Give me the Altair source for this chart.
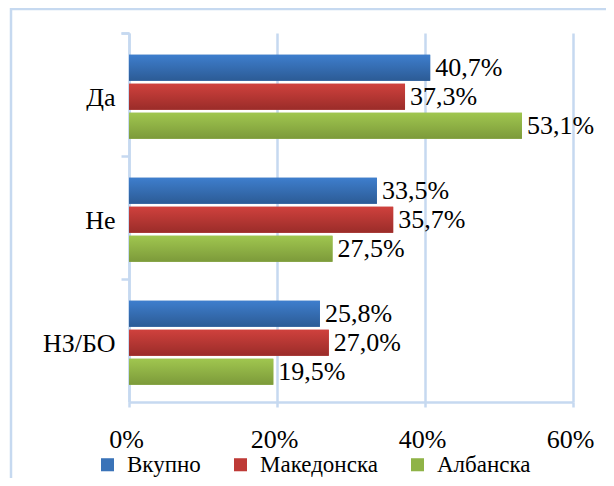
import altair as alt
import pandas as pd

categories = ["Да", "Не", "НЗ/БО"]
series = ["Вкупно", "Македонска", "Албанска"]
vkupno = [40.7, 33.5, 25.8]
makedonska = [37.3, 35.7, 27.0]
albanska = [53.1, 27.5, 19.5]
x_ticks = [0, 20, 40, 60]

solid = ["#3a73b8", "#be3a36", "#8fb347"]
grad_top = ["#3e7ecd", "#cf413d", "#a0c64f"]
grad_bot = ["#2c5b95", "#9a2c29", "#7c9a3a"]

rows = []
for s, vals in zip(series, [vkupno, makedonska, albanska]):
    for c, v in zip(categories, vals):
        rows.append({"cat": c, "series": s, "value": v,
                     "label": f"{v:.1f}".replace(".", ",") + "%"})
df = pd.DataFrame(rows)

FONT = "Liberation Serif"
GRID = "#c6d9f0"
FS = 26

y_enc = alt.Y("cat:N", sort=categories, title=None,
              scale=alt.Scale(domain=categories, paddingInner=0, paddingOuter=0),
              axis=alt.Axis(bandPosition=0, tickExtra=True, domainColor=GRID,
                            domainWidth=2.5, tickColor=GRID, tickWidth=2.5,
                            tickSize=8, labelFont=FONT, labelFontSize=FS,
                            labelColor="black", labelPadding=6, labelOffset=3,
                            grid=False))
yoff_enc = alt.YOffset("series:N", sort=series,
                       scale=alt.Scale(domain=series, paddingInner=0.103,
                                       paddingOuter=0.672, align=0.56))
x_enc = alt.X("value:Q", title=None,
              scale=alt.Scale(domain=[0, 60], nice=False),
              axis=alt.Axis(values=x_ticks, labelExpr="datum.value + '%'",
                            grid=True, gridColor=GRID, gridWidth=2.5,
                            domainColor=GRID, domainWidth=2.5,
                            tickColor=GRID, tickWidth=2.5, tickSize=5,
                            labelFlush=False, labelOffset=-3,
                            labelFont=FONT, labelFontSize=FS,
                            labelColor="black", labelPadding=19))

base = alt.Chart(df)

legend_layer = base.mark_bar().encode(
    x=x_enc, y=y_enc, yOffset=yoff_enc,
    color=alt.Color("series:N", sort=series,
                    scale=alt.Scale(domain=series, range=solid),
                    legend=alt.Legend(title=None, orient="none", direction="horizontal",
                                      legendX=-33, legendY=420,
                                      symbolType="square", symbolSize=170,
                                      symbolStrokeWidth=0,
                                      labelFont=FONT, labelFontSize=23,
                                      labelColor="black", labelOffset=8,
                                      columnPadding=28)),
)

grad_layers = []
for i, s in enumerate(series):
    grad = alt.Gradient(gradient="linear",
                        stops=[alt.GradientStop(color=grad_top[i], offset=0),
                               alt.GradientStop(color=grad_bot[i], offset=1)],
                        x1=0, x2=0, y1=0, y2=1)
    grad_layers.append(
        base.transform_filter(alt.datum.series == s)
        .mark_bar(color=grad)
        .encode(x=x_enc, y=y_enc, yOffset=yoff_enc)
    )

text_layer = base.mark_text(align="left", baseline="middle", dx=5,
                            font=FONT, fontSize=FS, color="black").encode(
    x=x_enc, y=y_enc, yOffset=yoff_enc, text="label:N")

frame = alt.Chart(pd.DataFrame({"a": [0]})).mark_rect(
    fill=None, stroke=GRID, strokeWidth=2.5).encode(
    x=alt.value(-118), x2=alt.value(700), y=alt.value(-24), y2=alt.value(700))

chart = alt.layer(frame, legend_layer, *grad_layers, text_layer).properties(
    width=444, height=369,
    autosize=alt.AutoSizeParams(type="none"),
    padding={"left": 121, "top": 25, "right": 33, "bottom": 76},
    background="white",
).configure_view(stroke=None)

chart.save("out.html", embed_options={"renderer": "svg", "actions": False})
